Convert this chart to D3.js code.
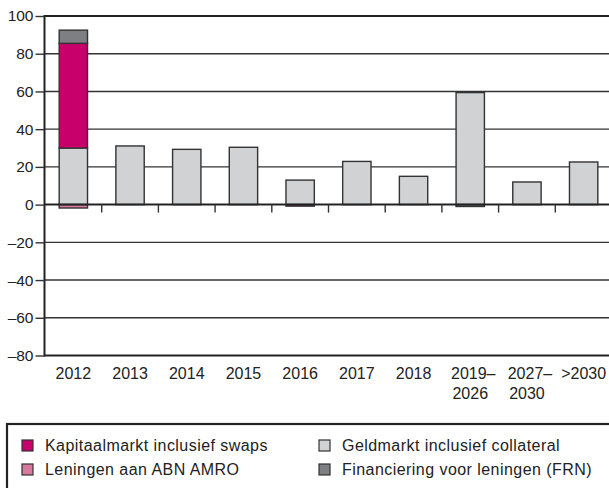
<!DOCTYPE html>
<html><head><meta charset="utf-8">
<script src="https://cdn.jsdelivr.net/npm/d3@7"></script>
<style>body{margin:0;background:#fff}svg{display:block}text{font-family:"Liberation Sans",Arial,sans-serif;fill:#222}</style>
</head><body><svg id="c" width="609" height="488"></svg>
<script>
const categories = ["2012","2013","2014","2015","2016","2017","2018","2019–2026","2027–2030",">2030"];
const geldmarkt     = [30, 31.1, 29.3, 30.4, 13.0, 22.9, 15.0, 59.4, 12.0, 22.6];
const kapitaalmarkt = [55.5, 0, 0, 0, -0.8, 0, 0, 0, 0, 0];
const frn           = [7.0, 0, 0, 0, 0, 0, 0, -1.0, 0, 0];
const leningen      = [-1.8, 0, 0, 0, 0, 0, 0, 0, 0, 0];
const yTicks = [100, 80, 60, 40, 20, 0, -20, -40, -60, -80];
const seriesNames = ["Kapitaalmarkt inclusief swaps","Geldmarkt inclusief collateral","Leningen aan ABN AMRO","Financiering voor leningen (FRN)"];
const colors = {"Kapitaalmarkt inclusief swaps":"#c8006c","Geldmarkt inclusief collateral":"#d1d2d4","Leningen aan ABN AMRO":"#d9789f","Financiering voor leningen (FRN)":"#7e7f82"};

const svg = d3.select("#c");
const x = d3.scaleBand().domain(categories).range([45, 612]).paddingInner(0.5).paddingOuter(0.25);
const xb = d3.scaleBand().domain(categories).range([45, 612]);
const y = d3.scaleLinear().domain([-80, 100]).range([355.5, 16]);

// gridlines
svg.append("g").selectAll("line").data(yTicks.filter(v => v !== 100 && v !== -80 && v !== 0)).join("line")
  .attr("x1", 45).attr("x2", 609).attr("y1", d => y(d)).attr("y2", d => y(d))
  .attr("stroke", "#333").attr("stroke-width", 1.4);

// stacking
const order = [
  {name:"Geldmarkt inclusief collateral", vals: geldmarkt},
  {name:"Kapitaalmarkt inclusief swaps", vals: kapitaalmarkt},
  {name:"Financiering voor leningen (FRN)", vals: frn},
  {name:"Leningen aan ABN AMRO", vals: leningen}
];
const rects = [];
categories.forEach((c, i) => {
  let pos = 0, neg = 0;
  order.forEach(s => {
    const v = s.vals[i];
    if (!v) return;
    let y0, y1;
    if (v > 0) { y0 = pos; y1 = pos + v; pos = y1; }
    else { y0 = neg; y1 = neg + v; neg = y1; }
    rects.push({c, name: s.name, y0, y1});
  });
});
svg.append("g").selectAll("rect").data(rects).join("rect")
  .attr("x", d => x(d.c)).attr("width", x.bandwidth())
  .attr("y", d => y(Math.max(d.y0, d.y1)))
  .attr("height", d => Math.abs(y(d.y0) - y(d.y1)))
  .attr("fill", d => colors[d.name])
  .attr("stroke", "#333").attr("stroke-width", 1.4);

// frame lines
svg.append("line").attr("x1", 44).attr("x2", 609).attr("y1", y(100)).attr("y2", y(100)).attr("stroke", "#222").attr("stroke-width", 2);
svg.append("line").attr("x1", 44).attr("x2", 609).attr("y1", y(-80)).attr("y2", y(-80)).attr("stroke", "#222").attr("stroke-width", 2);
svg.append("line").attr("x1", 44).attr("x2", 609).attr("y1", y(0)).attr("y2", y(0)).attr("stroke", "#222").attr("stroke-width", 2);

// y axis
const yAxis = d3.axisLeft(y).tickValues(yTicks).tickSize(9).tickPadding(2)
  .tickFormat(d => d < 0 ? "–" + Math.abs(d) : String(d));
const ya = svg.append("g").attr("transform", "translate(44.5,0)").call(yAxis);
ya.select(".domain").attr("stroke", "#222").attr("stroke-width", 2).attr("d", `M0,${y(100)-1}V${y(-80)+1}`);
ya.selectAll(".tick line").attr("stroke", "#333").attr("stroke-width", 1.4);
ya.selectAll(".tick text").attr("font-size", 15.5).attr("font-family", "Liberation Sans, Arial, sans-serif").attr("fill", "#222");

// x ticks at band boundaries
svg.append("g").selectAll("line").data(categories.slice(1)).join("line")
  .attr("x1", d => xb(d)).attr("x2", d => xb(d)).attr("y1", y(0)).attr("y2", y(0) + 8)
  .attr("stroke", "#333").attr("stroke-width", 1.4);

// x labels
const xl = svg.append("g").selectAll("text").data(categories).join("text")
  .attr("x", d => x(d) + x.bandwidth() / 2).attr("y", 378.5)
  .attr("text-anchor", "middle").attr("font-size", 16);
xl.each(function(d) {
  const parts = d.includes("–") ? [d.split("–")[0] + "–", d.split("–")[1]] : [d];
  const t = d3.select(this);
  parts.forEach((p, k) => t.append("tspan").attr("x", x(d) + x.bandwidth() / 2 + (k === 0 && parts.length > 1 ? 3 : 0)).attr("dy", k ? 20 : 0).text(p));
});

// legend
svg.append("rect").attr("x", 7).attr("y", 424).attr("width", 620).attr("height", 80)
  .attr("fill", "none").attr("stroke", "#222").attr("stroke-width", 2.2);
const legendPos = [[22, 445.5], [319, 445.5], [22, 469.5], [319, 469.5]];
const lg = svg.append("g").selectAll("g").data(seriesNames).join("g")
  .attr("transform", (d, i) => `translate(${legendPos[i][0]},${legendPos[i][1]})`);
lg.append("rect").attr("x", 0).attr("y", -5.5).attr("width", 11).attr("height", 11)
  .attr("fill", d => colors[d]).attr("stroke", "#333").attr("stroke-width", 1.2);
lg.append("text").attr("x", 23).attr("y", 5.8).attr("font-size", 16).attr("letter-spacing", 0.45).text(d => d);
</script></body></html>
